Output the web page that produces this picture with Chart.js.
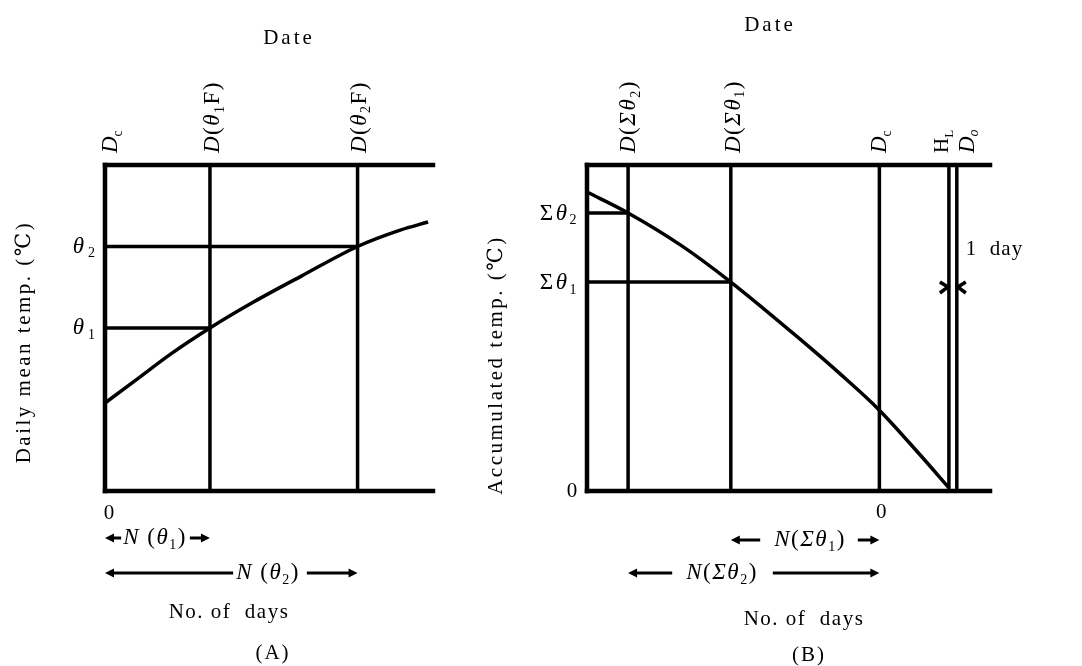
<!DOCTYPE html>
<html>
<head>
<meta charset="utf-8">
<script src="https://cdn.jsdelivr.net/npm/chart.js@4.4.1/dist/chart.umd.min.js"></script>
<style>
html, body { margin: 0; padding: 0; background: #fff; }
#wrap { position: relative; width: 1082px; height: 666px; }
#wrap canvas { position: absolute; left: 0; top: 0; }
</style>
</head>
<body>
<div id="wrap">
  <canvas id="chartA" width="1082" height="666"></canvas>
  <canvas id="chartB" width="1082" height="666"></canvas>
</div>
<script>
// (A) daily mean temperature against number of days
const daysA = [0, 10, 20, 32, 45, 60, 77, 90, 98.5];
const tempA = [27, 34.5, 42, 50, 57.8, 66, 75, 80, 82.5];
const thetaDaysA = [32, 77];      // D(θ1F), D(θ2F)
const thetaA = [50, 75];          // θ1, θ2
const xMaxA = 100;

// (B) accumulated temperature against number of days (Dc = 0)
const daysB = [-37, -31.8, -25, -18.8, -10, -5, 0, 5, 8.8];
const accB = [91.7, 85.3, 75.2, 64.1, 46.5, 36, 24.8, 11.5, 1];
const sumDaysB = [-31.8, -18.8];  // D(Σθ2), D(Σθ1)
const sumThetaB = [85.3, 64.1];   // Σθ2, Σθ1
const dcB = 0, hlB = 8.8, doB = 9.8;
const xMinB = -37, xMaxB = 14;

const yMax = 100;
const FONT = '"Liberation Serif", "DejaVu Serif", serif';
const INK = '#000';

// one straight or curved stroke as a dataset
const stroke = (pts, w, cap) => ({
    data: pts,
    borderColor: INK,
    borderWidth: w,
    borderCapStyle: cap || 'butt',
    pointRadius: 0,
    tension: 0,
    fill: false,
    clip: false
});

// draws text made of pieces: [text, style] style: i = italic, s = subscript
function rich(ctx, segs, x, y, o = {}) {
    const size = o.size || 21;
    ctx.save();
    ctx.fillStyle = INK;
    ctx.textBaseline = 'middle';
    ctx.textAlign = 'left';
    ctx.translate(x, y);
    if (o.rot) ctx.rotate(-Math.PI / 2);
    ctx.letterSpacing = (o.ls || 0) + 'px';
    const fontOf = s => (s.includes('i') ? 'italic ' : '') +
        (s.includes('s') ? Math.round(size * 0.6) : size) + 'px ' + FONT;
    let total = 0;
    const ws = segs.map(([t, s = '']) => {
        ctx.font = fontOf(s);
        const w = ctx.measureText(t).width;
        total += w;
        return w;
    });
    let cx = o.align === 'center' ? -total / 2 : o.align === 'right' ? -total : 0;
    segs.forEach(([t, s = ''], k) => {
        ctx.font = fontOf(s);
        ctx.fillText(t, cx, s.includes('s') ? size * 0.3 : 0);
        cx += ws[k];
    });
    ctx.restore();
    return total;
}

function arrow(ctx, xa, xb, y) {
    const dir = Math.sign(xb - xa);
    ctx.save();
    ctx.strokeStyle = INK;
    ctx.fillStyle = INK;
    ctx.lineWidth = 3;
    ctx.beginPath();
    ctx.moveTo(xa, y);
    ctx.lineTo(xb - dir * 5, y);
    ctx.stroke();
    ctx.beginPath();
    ctx.moveTo(xb, y);
    ctx.lineTo(xb - dir * 9, y - 4.5);
    ctx.lineTo(xb - dir * 9, y + 4.5);
    ctx.closePath();
    ctx.fill();
    ctx.restore();
}

// text flanked by two arrows running to xL and xR
function arrowRow(ctx, segs, cx, y, xL, xR, gapL, gapR, o) {
    const w = rich(ctx, segs, cx, y, Object.assign({ align: 'center' }, o));
    arrow(ctx, cx - w / 2 - gapL, xL, y);
    arrow(ctx, cx + w / 2 + gapR, xR, y);
}

const labelsA = {
    id: 'labelsA',
    afterDraw(chart) {
        const ctx = chart.ctx;
        const px = v => chart.scales.x.getPixelForValue(v);
        const py = v => chart.scales.y.getPixelForValue(v);
        rich(ctx, [['Date']], 289, 38, { align: 'center', ls: 3 });
        rich(ctx, [['D', 'i'], ['c', 's']], px(0) + 6, 153, { rot: true, size: 23 });
        rich(ctx, [['D', 'i'], ['('], ['θ', 'i'], ['1', 's'], ['F)']], px(thetaDaysA[0]) + 3, 153, { rot: true, size: 23, ls: 1.5 });
        rich(ctx, [['D', 'i'], ['('], ['θ', 'i'], ['2', 's'], ['F)']], px(thetaDaysA[1]) + 2, 153, { rot: true, size: 23, ls: 1.5 });
        rich(ctx, [['θ', 'i'], ['2', 's']], 99, py(thetaA[1]), { align: 'right', size: 23, ls: 4 });
        rich(ctx, [['θ', 'i'], ['1', 's']], 99, py(thetaA[0]), { align: 'right', size: 23, ls: 4 });
        rich(ctx, [['Daily mean temp. (℃)']], 24, 342, { rot: true, align: 'center', ls: 2.5 });
        rich(ctx, [['0']], px(0) + 4, 513, { align: 'center' });
        arrowRow(ctx, [['N', 'i'], [' ('], ['θ', 'i'], ['1', 's'], [')']], 155, 538, px(0), px(thetaDaysA[0]), 2, 3, { size: 23, ls: 1.5 });
        arrowRow(ctx, [['N', 'i'], [' ('], ['θ', 'i'], ['2', 's'], [')']], 268, 573, px(0), px(thetaDaysA[1]), 3, 7, { size: 23, ls: 1.5 });
        rich(ctx, [['No. of  days']], 229, 612, { align: 'center', ls: 1.5 });
        rich(ctx, [['(A)']], 273, 653, { align: 'center', ls: 2 });
    }
};

const labelsB = {
    id: 'labelsB',
    afterDraw(chart) {
        const ctx = chart.ctx;
        const px = v => chart.scales.x.getPixelForValue(v);
        const py = v => chart.scales.y.getPixelForValue(v);
        rich(ctx, [['Date']], 770, 25, { align: 'center', ls: 3 });
        rich(ctx, [['D', 'i'], ['('], ['Σ', 'i'], ['θ', 'i'], ['2', 's'], [')']], px(sumDaysB[0]) + 1, 153, { rot: true, size: 23, ls: 1.5 });
        rich(ctx, [['D', 'i'], ['('], ['Σ', 'i'], ['θ', 'i'], ['1', 's'], [')']], px(sumDaysB[1]) + 3, 153, { rot: true, size: 23, ls: 1.5 });
        rich(ctx, [['D', 'i'], ['c', 's']], px(dcB) + 1, 153, { rot: true, size: 23 });
        rich(ctx, [['H'], ['L', 's']], px(hlB) - 6, 153, { rot: true, size: 21 });
        rich(ctx, [['D', 'i'], ['o', 'si']], px(doB) + 11, 153, { rot: true, size: 23 });
        rich(ctx, [['Σ'], ['θ', 'i'], ['2', 's']], 579, py(sumThetaB[0]) + 1, { align: 'right', size: 23, ls: 2.5 });
        rich(ctx, [['Σ'], ['θ', 'i'], ['1', 's']], 579, py(sumThetaB[1]) + 1, { align: 'right', size: 23, ls: 2.5 });
        rich(ctx, [['Accumulated temp. (℃)']], 496, 365, { rot: true, align: 'center', ls: 2.5 });
        rich(ctx, [['0']], 572, 491, { align: 'center' });
        rich(ctx, [['0']], px(dcB) + 2, 512, { align: 'center' });
        rich(ctx, [['1  day']], px(doB) + 9, 249, { ls: 1 });
        // 1 day markers
        ctx.save();
        ctx.strokeStyle = INK;
        ctx.lineWidth = 3.5;
        const yc = 287, a = px(hlB) - 1, b = px(doB) + 1;
        ctx.beginPath();
        ctx.moveTo(a - 8, yc - 5); ctx.lineTo(a, yc); ctx.lineTo(a - 8, yc + 6);
        ctx.moveTo(b + 8, yc - 5); ctx.lineTo(b, yc); ctx.lineTo(b + 8, yc + 6);
        ctx.stroke();
        ctx.restore();
        arrowRow(ctx, [['N', 'i'], ['('], ['Σ', 'i'], ['θ', 'i'], ['1', 's'], [')']], 810, 540, px(sumDaysB[1]), px(dcB), 14, 12, { size: 23, ls: 1.5 });
        arrowRow(ctx, [['N', 'i'], ['('], ['Σ', 'i'], ['θ', 'i'], ['2', 's'], [')']], 722, 573, px(sumDaysB[0]), px(dcB), 14, 15, { size: 23, ls: 1.5 });
        rich(ctx, [['No. of  days']], 804, 619, { align: 'center', ls: 1.5 });
        rich(ctx, [['(B)']], 809, 655, { align: 'center', ls: 2 });
    }
};

const baseOptions = (xmin, xmax, pad) => ({
    responsive: false,
    animation: false,
    events: [],
    layout: { padding: pad },
    plugins: { legend: { display: false }, tooltip: { enabled: false } },
    scales: {
        x: { type: 'linear', display: false, min: xmin, max: xmax },
        y: { type: 'linear', display: false, min: 0, max: yMax }
    }
});

// chart A
const datasetsA = [];
const curveA = stroke(daysA.map((d, i) => ({ x: d, y: tempA[i] })), 3.5);
curveA.cubicInterpolationMode = 'monotone';
datasetsA.push(curveA);
datasetsA.push(stroke([{ x: 0, y: 0 }, { x: 0, y: yMax }], 4.5, 'square'));
datasetsA.push(stroke([{ x: 0, y: yMax }, { x: xMaxA, y: yMax }], 4.5, 'square'));
datasetsA.push(stroke([{ x: 0, y: 0 }, { x: xMaxA, y: 0 }], 4.5, 'square'));
thetaDaysA.forEach((d, i) => {
    datasetsA.push(stroke([{ x: d, y: 0 }, { x: d, y: yMax }], 3.5));
    datasetsA.push(stroke([{ x: 0, y: thetaA[i] }, { x: d, y: thetaA[i] }], 3.5));
});

new Chart(document.getElementById('chartA'), {
    type: 'line',
    data: { datasets: datasetsA },
    options: baseOptions(0, xMaxA, { left: 105, right: 1082 - 433, top: 165, bottom: 666 - 491 }),
    plugins: [labelsA]
});

// chart B
const datasetsB = [];
const curveB = stroke(daysB.map((d, i) => ({ x: d, y: accB[i] })), 3.5);
curveB.cubicInterpolationMode = 'monotone';
datasetsB.push(curveB);
datasetsB.push(stroke([{ x: xMinB, y: 0 }, { x: xMinB, y: yMax }], 4.5, 'square'));
datasetsB.push(stroke([{ x: xMinB, y: yMax }, { x: xMaxB, y: yMax }], 4.5, 'square'));
datasetsB.push(stroke([{ x: xMinB, y: 0 }, { x: xMaxB, y: 0 }], 4.5, 'square'));
sumDaysB.forEach((d, i) => {
    datasetsB.push(stroke([{ x: d, y: 0 }, { x: d, y: yMax }], 3.5));
    datasetsB.push(stroke([{ x: xMinB, y: sumThetaB[i] }, { x: d, y: sumThetaB[i] }], 3.5));
});
[dcB, hlB, doB].forEach(d => datasetsB.push(stroke([{ x: d, y: 0 }, { x: d, y: yMax }], 3.5)));

new Chart(document.getElementById('chartB'), {
    type: 'line',
    data: { datasets: datasetsB },
    options: baseOptions(xMinB, xMaxB, { left: 587, right: 1082 - 990, top: 165, bottom: 666 - 491 }),
    plugins: [labelsB]
});
</script>
</body>
</html>
